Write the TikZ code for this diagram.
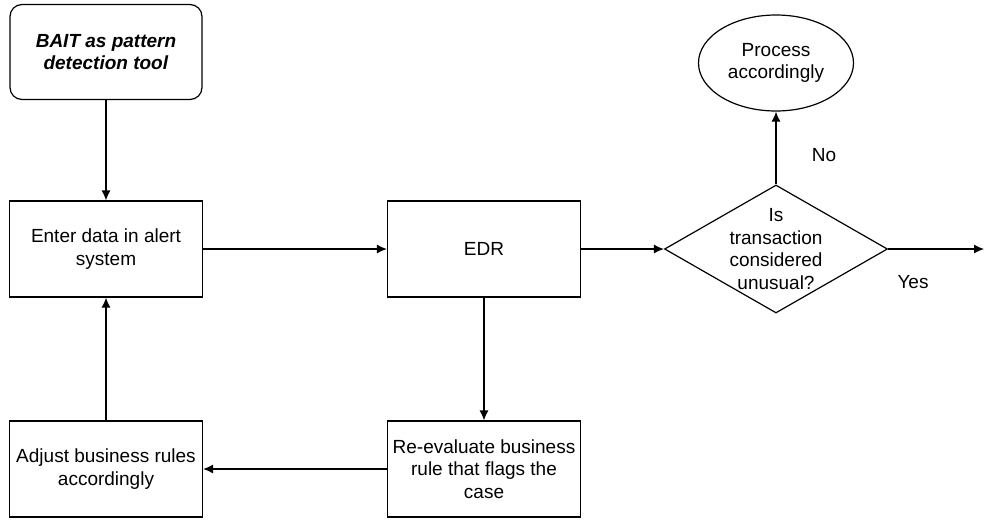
\documentclass[tikz,border=0pt]{standalone}
\usepackage{fontspec}
\setmainfont{Liberation Sans}
\usepackage{tikz}
\usetikzlibrary{arrows.meta, positioning, shapes.geometric}
\tikzset{>={Latex[width=9pt,length=10pt]}}
\tikzset{
  txt/.style = {font = \fontsize{19}{22.4}\selectfont, align = center},
  box/.style = {draw, txt, line width = 1.2pt, minimum width = 193pt, minimum height = 96pt, inner sep = 2pt},
  startbox/.style = {box, rounded corners = 12pt, minimum width = 192pt, minimum height = 95pt},
  decision/.style = {draw, diamond, line width = 1.2pt, minimum width = 223pt, minimum height = 128pt, inner sep = 0pt},
  terminal/.style = {draw, ellipse, txt, line width = 1.2pt, minimum width = 155pt, minimum height = 96pt, inner sep = 0pt}
}

\begin{document}
\begin{tikzpicture}[auto, on grid, x = 1pt, y = 1pt, node distance = 197pt and 378pt]
		\useasboundingbox (0,0) rectangle (985,-520);
		\node (bait) [startbox] at (106,-52) {\textbf{\textit{BAIT as pattern}}\\\textbf{\textit{detection tool}}};
		\node (enter) [box, below = of bait] {Enter data in alert\\system};
		\node (edr) [box, right = of enter] {EDR};
		\node (reeval) [box, below = 220pt of edr] {Re-evaluate business\\rule that flags the\\case};
		\node (adjust) [box, left = of reeval] {Adjust business rules\\accordingly};
		\node (unusual) [decision, right = 292pt of edr, label = {[txt]center:Is\\transaction\\considered\\unusual?}] {};
		\node (process) [terminal, above = 186pt of unusual] {Process\\accordingly};
		\coordinate [right = 208pt of unusual] (out);
		\path[->, line width = 1.2pt]
		(bait) edge (enter)
		(enter) edge (edr)
		(edr) edge (unusual)
		(edr) edge (reeval)
		(reeval) edge (adjust)
		(adjust) edge (enter)
		(unusual) edge node [txt, anchor = west, xshift = 32pt, pos = 0.4] {No} (process)
		(unusual) edge node [txt, anchor = north, yshift = -22pt, pos = 0.26] {Yes} (out);
\end{tikzpicture}
\end{document}
